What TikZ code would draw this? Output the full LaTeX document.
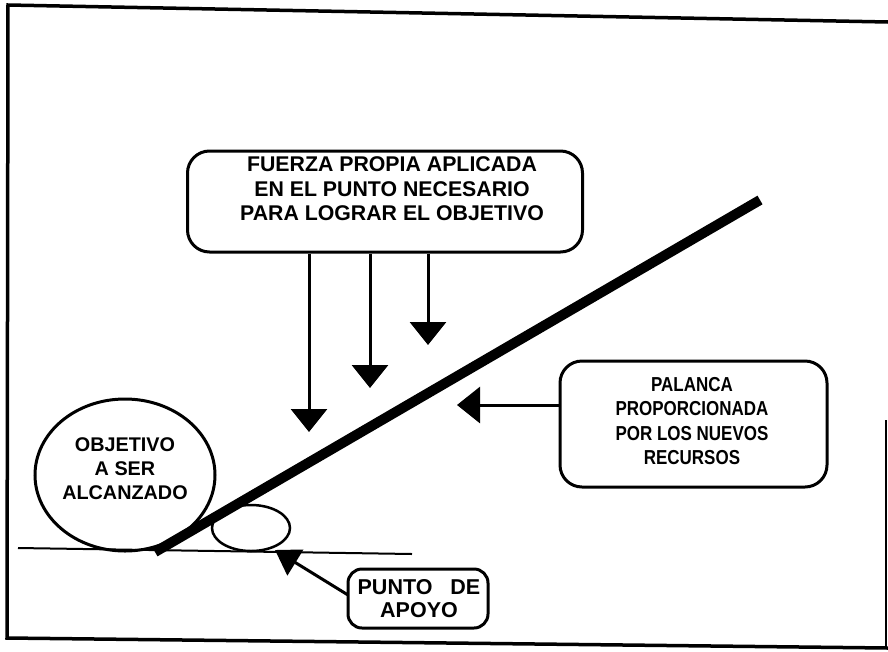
\documentclass[tikz,border=0pt]{standalone}
\usepackage{fontspec}
\setmainfont{Liberation Sans}
\newfontfamily\narrowbold{Liberation Sans Bold}[FakeStretch=0.84]
\usetikzlibrary{arrows.meta,shapes.geometric}
\begin{document}
\begin{tikzpicture}[x=1pt,y=-1pt,
  roundbox/.style={draw,line width=3pt,rounded corners=22pt,inner sep=0pt},
  lbl/.style={align=center,font=\bfseries\fontsize{21.3}{24.5}\selectfont,inner sep=0pt},
  downarr/.style={line width=3pt,-{Triangle[width=36pt,length=23pt]}},
  smallarr/.style={line width=3pt,-{Triangle[width=30pt,length=24pt]}},
  frameline/.style={line width=3.5pt,line cap=round}
]
\useasboundingbox (0,0) rectangle (888,651);
% frame
\draw[frameline] (888,22) -- (8,5) -- (7,638) -- (888,648);
\draw[line width=2pt] (886,420) -- (886,648);

% ground line
\coordinate (g1) at (18,548);
\coordinate (g2) at (412,554);
\draw[line width=2pt] (g1) -- (g2);

% objective circle
\node[draw,ellipse,line width=3pt,minimum width=180pt,minimum height=152pt,inner sep=0pt] (obj) at (125,475) {};
\node[lbl,font=\bfseries\fontsize{19.8}{24}\selectfont] (objtxt) at (125,469) {OBJETIVO\\A SER\\ALCANZADO};

% fulcrum
\node[draw,ellipse,line width=2.5pt,minimum width=78pt,minimum height=46pt,inner sep=0pt,fill=white] (fulc) at (251,528) {};

% lever
\coordinate (l1) at (155,552);
\coordinate (l2) at (760,200);
\draw[line width=10pt] (l1) -- (l2);

% top box
\node[roundbox,minimum width=395pt,minimum height=101pt] (fuerza) at (385,201.5) {};
\node[lbl] (fuerzatxt) at (392,189) {FUERZA PROPIA APLICADA\\EN EL PUNTO NECESARIO\\PARA LOGRAR EL OBJETIVO};
\coordinate (t1) at (309,432);
\coordinate (t2) at (370,388);
\coordinate (t3) at (428,345);
\draw[downarr] (fuerza.south -| t1) -- (t1);
\draw[downarr] (fuerza.south -| t2) -- (t2);
\draw[downarr] (fuerza.south -| t3) -- (t3);

% palanca box
\node[roundbox,minimum width=267pt,minimum height=126pt] (palanca) at (693.5,424) {};
\node[lbl,font=\narrowbold\fontsize{20.2}{24.3}\selectfont] (palancatxt) at (692,421) {PALANCA\\PROPORCIONADA\\POR LOS NUEVOS\\RECURSOS};
\coordinate (tp) at (457,405);
\draw[downarr] (tp -| palanca.west) -- (tp);

% punto de apoyo box
\node[roundbox,rounded corners=14pt,minimum width=140pt,minimum height=59pt] (punto) at (418,598.5) {};
\node[lbl,font=\bfseries\fontsize{21.5}{23.5}\selectfont] (puntotxt) at (419,598.5) {PUNTO\hspace{12pt} DE\\APOYO};
\coordinate (ta) at (275,550);
\coordinate (pa) at (348,595);
\draw[smallarr] (pa) -- (ta);
\end{tikzpicture}
\end{document}
